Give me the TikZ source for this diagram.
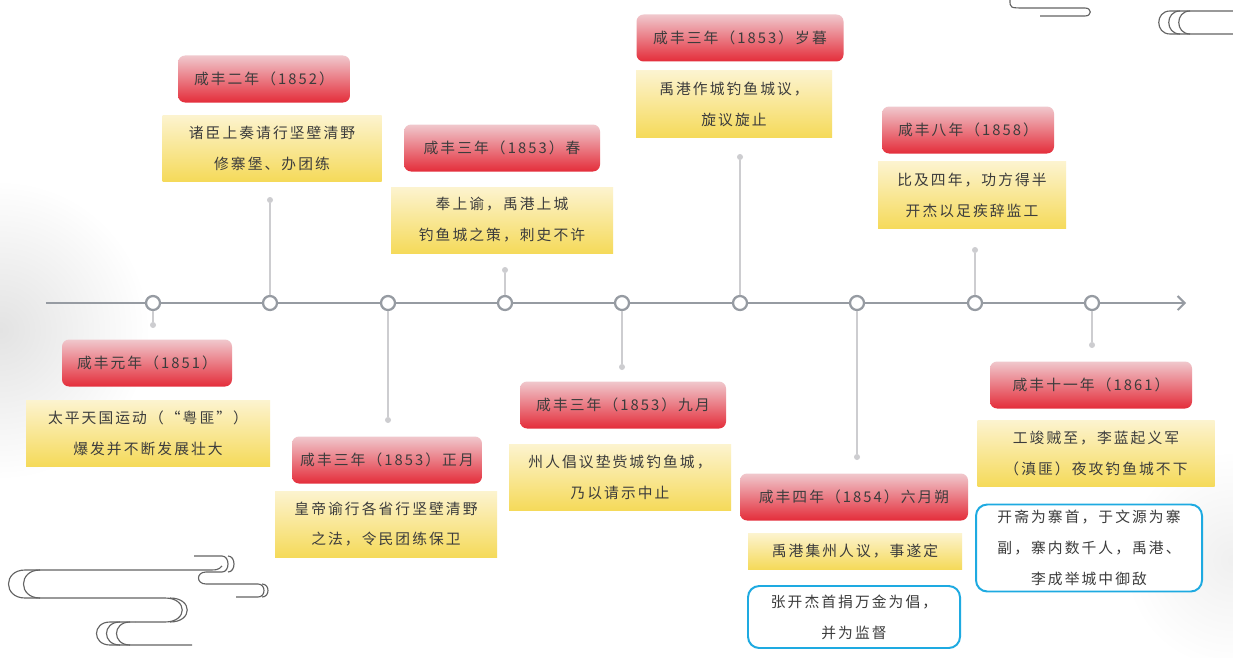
\documentclass[tikz,border=0pt]{standalone}
\usepackage{fontspec}
\newfontfamily\cjk[LetterSpace=14]{Noto Sans CJK SC}
\usetikzlibrary{arrows.meta}
\newdimen\px \px=0.025cm
\definecolor{axisgray}{RGB}{150,155,162}
\definecolor{stemgray}{RGB}{205,205,208}
\definecolor{redtop}{RGB}{240,200,205}
\definecolor{redbot}{RGB}{228,45,58}
\definecolor{yeltop}{RGB}{250,232,160}
\definecolor{yelbot}{RGB}{245,218,90}
\definecolor{noteblue}{RGB}{30,170,225}
\definecolor{inkgray}{RGB}{60,60,60}
\tikzstyle{yearBox} = [rectangle, rounded corners=5pt, inner sep=0pt, text centered, top color=redtop, bottom color=redbot, minimum height=47\px, text=inkgray, font=\cjk\fontsize{10.5}{14}\selectfont]
\tikzstyle{eventBox} = [rectangle, inner sep=0pt, align=center, top color=yeltop!50!white, bottom color=yelbot, minimum height=66\px, text=inkgray, font=\cjk\fontsize{10.5}{22}\selectfont]
\tikzstyle{noteBox} = [rectangle, rounded corners=8pt, draw=noteblue, line width=1.4pt, fill=white, inner sep=0pt, align=center, text=inkgray, font=\cjk\fontsize{10.5}{22}\selectfont]
\tikzstyle{tick} = [circle, draw=axisgray, line width=1.6pt, fill=white, minimum size=14\px, inner sep=0pt]
\tikzstyle{tip} = [circle, fill=stemgray, minimum size=6\px, inner sep=0pt]
\tikzstyle{cloud} = [draw=inkgray!80, line width=0.8pt]

\begin{document}
\begin{tikzpicture}[x=0.025cm, y=-0.025cm]
    \useasboundingbox (0,0) rectangle (1233,657);
    \fill[white] (0,0) rectangle (1233,657);
    \shade[inner color=gray!22, outer color=white] (0,330) circle (150);
    \shade[inner color=gray!12, outer color=white] (1233,560) circle (110);

    % clouds
    \draw[cloud] (222,566) .. controls (218,570) .. (205,570) -- (25,570) .. controls (3,570) and (3,598) .. (25,598) -- (165,598) .. controls (188,598) and (188,622) .. (165,622) -- (135,622);
    \draw[cloud] (40,570) .. controls (18,570) and (18,598) .. (40,598);
    \draw[cloud] (170,598) .. controls (193,598) and (193,622) .. (170,622);
    \draw[cloud] (192,645) -- (110,645) .. controls (92,645) and (92,622) .. (110,622) -- (135,622);
    \draw[cloud] (120,645) .. controls (102,645) and (102,622) .. (120,622);
    \draw[cloud] (130,645) .. controls (112,645) and (112,622) .. (130,622);
    \draw[cloud] (194,556) -- (222,556) .. controls (230,556) and (230,572) .. (222,572) -- (206,572) .. controls (196,572) and (196,584) .. (206,584) -- (258,584) .. controls (266,584) and (266,597) .. (258,597) -- (236,597);
    \draw[cloud] (228,556) .. controls (236,556) and (236,572) .. (228,572);
    \draw[cloud] (262,584) .. controls (270,584) and (270,597) .. (262,597);
    \draw[cloud] (1010,0) .. controls (1010,8) .. (1025,8) -- (1085,8) .. controls (1092,8) and (1092,16) .. (1085,16) -- (1040,16);
    \draw[cloud] (1233,11) -- (1170,11) .. controls (1155,11) and (1155,34) .. (1170,34) -- (1233,34);
    \draw[cloud] (1180,11) .. controls (1165,11) and (1165,34) .. (1180,34);
    \draw[cloud] (1190,11) .. controls (1175,11) and (1175,34) .. (1190,34);

    % axis
    \node (start) [inner sep=0pt] at (45,303) {};
    \node (stop) [inner sep=0pt] at (1187,303) {};
    \draw[axisgray, line width=1.4pt, -{Straight Barb[length=5pt]}] (start) -- (stop);

    % ticks, stems and dots
    \foreach \i/\x/\y in {1/153/325, 2/270/200, 3/388/420, 4/505/270, 5/622/367, 6/740/157, 7/857/457, 8/975/250, 9/1092/345}{
        \node (d\i) [tip] at (\x,\y) {};
        \node (t\i) [tick] at (\x,303) {};
        \draw[stemgray, line width=1pt] (t\i) -- (d\i);
    }

    % years
    \node (Y1) [yearBox, minimum width=170\px] at (147,363) {咸丰元年（1851）};
    \node (Y2) [yearBox, minimum width=172\px] at (264,79) {咸丰二年（1852）};
    \node (Y3) [yearBox, minimum width=190\px] at (387,460) {咸丰三年（1853）正月};
    \node (Y4) [yearBox, minimum width=196\px] at (502,148) {咸丰三年（1853）春};
    \node (Y5) [yearBox, minimum width=206\px] at (623,405) {咸丰三年（1853）九月};
    \node (Y6) [yearBox, minimum width=207\px] at (740,38) {咸丰三年（1853）岁暮};
    \node (Y7) [yearBox, minimum width=228\px] at (854,497) {咸丰四年（1854）六月朔};
    \node (Y8) [yearBox, minimum width=172\px] at (968,130) {咸丰八年（1858）};
    \node (Y9) [yearBox, minimum width=202\px] at (1091,385) {咸丰十一年（1861）};

    % events
    \node (E1) [eventBox, minimum width=244\px] at (148,433) {太平天国运动（“粤匪”）\\爆发并不断发展壮大};
    \node (E2) [eventBox, minimum width=219\px] at (272,148) {诸臣上奏请行坚壁清野\\修寨堡、办团练};
    \node (E3) [eventBox, minimum width=222\px] at (386,524) {皇帝谕行各省行坚壁清野\\之法，令民团练保卫};
    \node (E4) [eventBox, minimum width=222\px] at (502,220) {奉上谕，禹港上城\\钓鱼城之策，刺史不许};
    \node (E5) [eventBox, minimum width=222\px] at (620,477) {州人倡议垫赀城钓鱼城，\\乃以请示中止};
    \node (E6) [eventBox, minimum width=196\px] at (734,104) {禹港作城钓鱼城议，\\旋议旋止};
    \node (E7) [eventBox, minimum width=214\px, minimum height=36\px] at (855,551) {禹港集州人议，事遂定};
    \node (E8) [eventBox, minimum width=188\px, minimum height=67\px] at (972,195) {比及四年，功方得半\\开杰以足疾辞监工};
    \node (E9) [eventBox, minimum width=237\px] at (1096,453) {工竣贼至，李蓝起义军\\（滇匪）夜攻钓鱼城不下};

    % notes
    \node (N7) [noteBox, minimum width=212\px, minimum height=62\px] at (854,617) {张开杰首捐万金为倡，\\并为监督};
    \node (N9) [noteBox, minimum width=226\px, minimum height=87\px] at (1089,548) {开斋为寨首，于文源为寨\\副，寨内数千人，禹港、\\李成举城中御敌};
\end{tikzpicture}
\end{document}
